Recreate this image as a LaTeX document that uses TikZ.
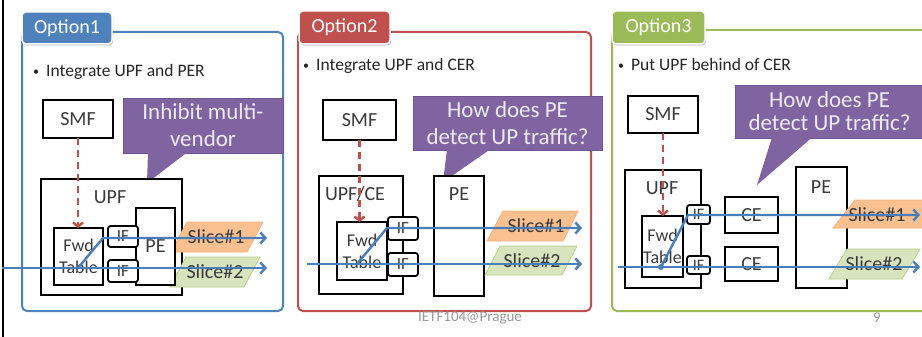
\documentclass[tikz,border=0pt]{standalone}
\usepackage{fontspec}
\setmainfont{Carlito}
\usetikzlibrary{arrows.meta,shadows}
\definecolor{obl}{HTML}{4F81BD}
\definecolor{ored}{HTML}{C0504D}
\definecolor{ogr}{HTML}{9BBB59}
\definecolor{purp}{HTML}{8064A2}
\definecolor{purpd}{HTML}{6E558E}
\definecolor{lav}{HTML}{EEEAF4}
\definecolor{flowc}{HTML}{4A7EBB}
\definecolor{sorange}{HTML}{FAC090}
\definecolor{sorangeb}{HTML}{F5B27A}
\definecolor{sgreen}{HTML}{D7E4BD}
\definecolor{sgreenb}{HTML}{B5D08A}
\definecolor{txt}{HTML}{3A3A3A}
\newcommand\myfs[2]{\fontsize{#1}{#2}\selectfont}
\newcommand\mybul{{\myfs{12}{12}\raisebox{1pt}{•}}\hspace{7pt}}
\newcommand\mybox[7][]{\node[inner sep=0pt,outer sep=0pt,#1,minimum width={(#5-#3)*1pt},minimum height={(#6-#4)*1pt}] (#2) at ({(#3+#5)/2},{(#4+#6)/2}) {#7};}
\begin{document}
\begin{tikzpicture}[x=1pt,y=-1pt,
  bx/.style={draw=black,line width=2pt,fill=white,text=txt,font=\myfs{20}{24}},
  fwdb/.style={bx,align=center,font=\myfs{18}{22}},
  ifb/.style={bx,line width=1.8pt,rounded corners=2.5pt,font=\myfs{17}{20}},
  panel/.style={line width=2pt,rounded corners=5pt},
  tab/.style={draw=white,line width=1.5pt,rounded corners=4pt,text=white,font=\myfs{20}{24},
     drop shadow={shadow xshift=1pt,shadow yshift=-1.5pt,fill=black,opacity=0.3}},
  bul/.style={anchor=west,inner sep=0pt,text=black!85,font=\myfs{17.5}{21}},
  callout/.style={fill=purp,draw=purpd,line width=0.8pt,text=lav,align=center,font=\myfs{23}{27}},
  lbl/.style={inner sep=0pt,text=txt,font=\myfs{20}{24}},
  s1/.style={fill=sorange,draw=sorangeb,line width=0.8pt},
  s2/.style={fill=sgreen,draw=sgreenb,line width=0.8pt},
  stxt/.style={inner sep=0pt,text=txt,font=\myfs{20}{24}},
  flow/.style={draw=flowc,line width=2.4pt,-{Straight Barb[length=5pt,width=11pt]}},
  dasharrow/.style={draw=ored,line width=2.4pt,dash pattern=on 7pt off 5pt,-{Straight Barb[length=4pt,width=10pt]}},
  foot/.style={inner sep=0pt,text=black!40,font=\myfs{15}{18}}]
\useasboundingbox (0,0) rectangle (922,337);
\clip (0,0) rectangle (922,337);
\fill[white] (0,0) rectangle (922,337);
\draw[line width=1.6pt] (3,0) -- (3,337);

% ---------------- Option 1
\mybox[panel,draw=obl]{p1}{22}{32}{283}{311}{}
\mybox[tab,fill=obl]{t1}{22}{12}{112}{44}{Option1}
\node[bul] (b1) at (33,72) {\mybul Integrate UPF and PER};
\mybox[bx]{smf1}{43}{100}{113}{138}{SMF}
\mybox[callout]{c1}{123}{98}{283}{153}{Inhibit multi-\\vendor}
\fill[purp] (148,152.5) -- (187,152.5) -- (147,183) -- cycle;
\mybox[bx]{upf1}{41}{179}{182}{295}{}
\node[lbl] (upf1l) at (110,197) {UPF};
\filldraw[s1] (187,222) -- (263,222) -- (247,252) -- (171,252) -- cycle;
\node[stxt] (s1a) at (216,237) {Slice\#1};
\filldraw[s2] (186,257) -- (260,257) -- (244,287) -- (170,287) -- cycle;
\node[stxt] (s1b) at (215,272) {Slice\#2};
\mybox[bx]{pe1}{136}{208}{175}{285}{PE}
\mybox[fwdb]{fwd1}{54}{228}{103}{285}{Fwd\\Table}
\mybox[ifb]{if1a}{108}{226}{138}{247}{IF}
\mybox[ifb]{if1b}{108}{260}{138}{282}{IF}
\draw[dasharrow] (smf1.south) -- (smf1.south |- fwd1.north);
\coordinate (in1) at (2,268);
\coordinate (d1) at (78,268);
\coordinate (k1) at (103,238);
\coordinate (o1a) at (267,238);
\coordinate (o1b) at (267,268);
\draw[flow] (in1) -- (o1b);
\draw[flow] (d1) -- (k1) -- (o1a);

% ---------------- Option 2
\mybox[panel,draw=ored]{p2}{298}{32}{591}{311}{}
\mybox[tab,fill=ored]{t2}{299}{11}{390}{44}{Option2}
\node[bul] (b2) at (303,66) {\mybul Integrate UPF and CER};
\mybox[bx]{smf2}{323}{100}{396}{140}{SMF}
\mybox[callout]{c2}{413}{96}{602}{150}{How does PE\\detect UP traffic?}
\fill[purp] (447,149.5) -- (490,149.5) -- (443,182) -- cycle;
\mybox[bx]{upf2}{319}{176}{403}{294}{}
\node[lbl] (upf2l) at (355,194) {UPF/CE};
\mybox[bx]{pe2}{434}{176}{484}{296}{}
\node[lbl] (pe2l) at (459,194) {PE};
\filldraw[s1] (503,211) -- (578,211) -- (563,241) -- (487,241) -- cycle;
\node[stxt] (s2a) at (536,226) {Slice\#1};
\filldraw[s2] (500,246) -- (577,246) -- (562,275) -- (485,275) -- cycle;
\node[stxt] (s2b) at (532,261) {Slice\#2};
\mybox[fwdb]{fwd2}{337}{222}{387}{280}{Fwd\\Table}
\mybox[ifb]{if2a}{388}{217}{418}{240}{IF}
\mybox[ifb]{if2b}{388}{253}{418}{276}{IF}
\draw[dasharrow] (smf2.south) -- (smf2.south |- fwd2.north);
\coordinate (in2) at (307,264);
\coordinate (d2) at (357,264);
\coordinate (k2) at (387,228);
\coordinate (o2a) at (582,228);
\coordinate (o2b) at (582,264);
\draw[flow] (in2) -- (o2b);
\draw[flow] (d2) -- (k2) -- (o2a);

% ---------------- Option 3
\mybox[panel,draw=ogr]{p3}{612}{30}{940}{311}{}
\mybox[tab,fill=ogr]{t3}{612}{11}{705}{44}{Option3}
\node[bul] (b3) at (618,64) {\mybul Put UPF behind of CER};
\mybox[bx]{smf3}{628}{96}{698}{133}{SMF}
\mybox[callout,font=\myfs{23}{23}]{c3}{735}{85}{924}{138}{How does PE\\detect UP traffic?}
\fill[purp] (772,137.5) -- (812,137.5) -- (757,185) -- cycle;
\mybox[bx]{upf3}{625}{170}{701}{288}{}
\node[lbl] (upf3l) at (662,188) {UPF};
\mybox[bx]{pe3}{796}{167}{847}{288}{}
\node[lbl] (pe3l) at (821,187) {PE};
\mybox[bx]{ce3a}{725}{197}{778}{233}{CE}
\mybox[bx]{ce3b}{725}{247}{778}{281}{CE}
\filldraw[s1] (855,200) -- (940,200) -- (925,228) -- (833,228) -- cycle;
\node[stxt] (s3a) at (877,215) {Slice\#1};
\filldraw[s2] (847,249) -- (920,249) -- (902,279) -- (829,279) -- cycle;
\node[stxt] (s3b) at (874,264) {Slice\#2};
\mybox[fwdb]{fwd3}{642}{216}{683}{277}{Fwd\\Table}
\mybox[ifb,font=\myfs{16}{19}]{if3a}{687}{205}{710}{224}{IF}
\mybox[ifb,font=\myfs{16}{19}]{if3b}{687}{256}{710}{274}{IF}
\draw[dasharrow] (smf3.south) -- (smf3.south |- fwd3.north);
\coordinate (in3) at (618,267);
\coordinate (d3) at (661,267);
\coordinate (k3) at (688,215);
\coordinate (o3a) at (920,215);
\coordinate (o3b) at (920,267);
\draw[flow] (in3) -- (o3b);
\draw[flow] (d3) -- (k3) -- (o3a);
\fill[flowc] (d3) circle (3);

% ---------------- footer
\node[foot] (ft) at (470,318) {IETF104@Prague};
\node[foot] (pg) at (877,318) {9};
\end{tikzpicture}
\end{document}
